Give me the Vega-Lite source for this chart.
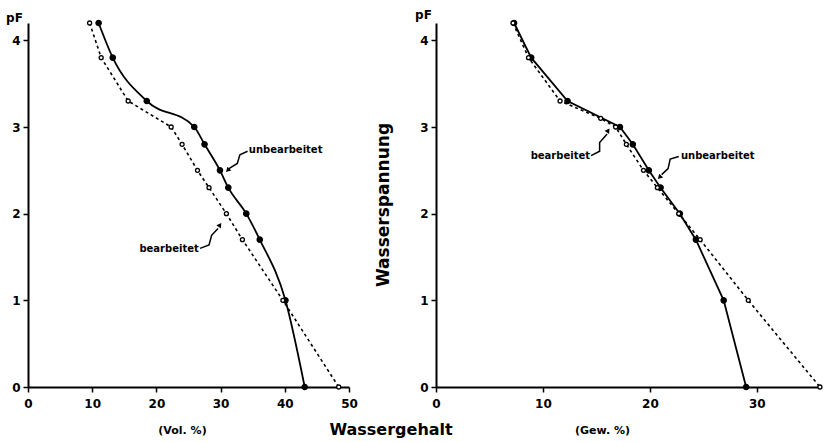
{
  "$schema": "https://vega.github.io/schema/vega-lite/v6.json",
  "background": "white",
  "padding": {"left": 5, "top": 8, "right": 2, "bottom": 0},
  "title": {"text": "Wassergehalt", "orient": "bottom", "anchor": "middle", "font": "DejaVu Sans", "fontSize": 16, "fontWeight": "bold", "color": "black", "offset": -13, "dx": -24},
  "datasets": {
    "curves": [
      {"panel": "vol", "series": "unbearbeitet", "x": 11.0, "pF": 4.2},
      {"panel": "vol", "series": "unbearbeitet", "x": 13.2, "pF": 3.8},
      {"panel": "vol", "series": "unbearbeitet", "x": 18.5, "pF": 3.3},
      {"panel": "vol", "series": "unbearbeitet", "x": 25.9, "pF": 3.0},
      {"panel": "vol", "series": "unbearbeitet", "x": 27.5, "pF": 2.8},
      {"panel": "vol", "series": "unbearbeitet", "x": 29.9, "pF": 2.5},
      {"panel": "vol", "series": "unbearbeitet", "x": 31.2, "pF": 2.3},
      {"panel": "vol", "series": "unbearbeitet", "x": 34.0, "pF": 2.0},
      {"panel": "vol", "series": "unbearbeitet", "x": 36.1, "pF": 1.7},
      {"panel": "vol", "series": "unbearbeitet", "x": 40.1, "pF": 1.0},
      {"panel": "vol", "series": "unbearbeitet", "x": 43.1, "pF": 0.0},
      {"panel": "vol", "series": "bearbeitet", "x": 9.6, "pF": 4.2},
      {"panel": "vol", "series": "bearbeitet", "x": 11.4, "pF": 3.8},
      {"panel": "vol", "series": "bearbeitet", "x": 15.6, "pF": 3.3},
      {"panel": "vol", "series": "bearbeitet", "x": 22.3, "pF": 3.0},
      {"panel": "vol", "series": "bearbeitet", "x": 24.0, "pF": 2.8},
      {"panel": "vol", "series": "bearbeitet", "x": 26.4, "pF": 2.5},
      {"panel": "vol", "series": "bearbeitet", "x": 28.2, "pF": 2.3},
      {"panel": "vol", "series": "bearbeitet", "x": 30.9, "pF": 2.0},
      {"panel": "vol", "series": "bearbeitet", "x": 33.4, "pF": 1.7},
      {"panel": "vol", "series": "bearbeitet", "x": 39.7, "pF": 1.0},
      {"panel": "vol", "series": "bearbeitet", "x": 48.4, "pF": 0.0},
      {"panel": "gew", "series": "unbearbeitet", "x": 7.3, "pF": 4.2},
      {"panel": "gew", "series": "unbearbeitet", "x": 8.9, "pF": 3.8},
      {"panel": "gew", "series": "unbearbeitet", "x": 12.3, "pF": 3.3},
      {"panel": "gew", "series": "unbearbeitet", "x": 17.2, "pF": 3.0},
      {"panel": "gew", "series": "unbearbeitet", "x": 18.4, "pF": 2.8},
      {"panel": "gew", "series": "unbearbeitet", "x": 19.9, "pF": 2.5},
      {"panel": "gew", "series": "unbearbeitet", "x": 21.0, "pF": 2.3},
      {"panel": "gew", "series": "unbearbeitet", "x": 22.8, "pF": 2.0},
      {"panel": "gew", "series": "unbearbeitet", "x": 24.3, "pF": 1.7},
      {"panel": "gew", "series": "unbearbeitet", "x": 26.9, "pF": 1.0},
      {"panel": "gew", "series": "unbearbeitet", "x": 29.0, "pF": 0.0},
      {"panel": "gew", "series": "bearbeitet", "x": 7.2, "pF": 4.2},
      {"panel": "gew", "series": "bearbeitet", "x": 8.65, "pF": 3.8},
      {"panel": "gew", "series": "bearbeitet", "x": 11.6, "pF": 3.3},
      {"panel": "gew", "series": "bearbeitet", "x": 15.4, "pF": 3.1},
      {"panel": "gew", "series": "bearbeitet", "x": 16.8, "pF": 3.0},
      {"panel": "gew", "series": "bearbeitet", "x": 17.8, "pF": 2.8},
      {"panel": "gew", "series": "bearbeitet", "x": 19.4, "pF": 2.5},
      {"panel": "gew", "series": "bearbeitet", "x": 20.7, "pF": 2.3},
      {"panel": "gew", "series": "bearbeitet", "x": 22.7, "pF": 2.0},
      {"panel": "gew", "series": "bearbeitet", "x": 24.7, "pF": 1.7},
      {"panel": "gew", "series": "bearbeitet", "x": 29.2, "pF": 1.0},
      {"panel": "gew", "series": "bearbeitet", "x": 35.9, "pF": 0.0}
    ],
    "labels": [
      {"panel": "vol", "series": "unbearbeitet", "x": 34.4, "pF": 2.73},
      {"panel": "vol", "series": "bearbeitet", "x": 26.6, "pF": 1.59},
      {"panel": "gew", "series": "bearbeitet", "x": 14.4, "pF": 2.66},
      {"panel": "gew", "series": "unbearbeitet", "x": 22.9, "pF": 2.66}
    ],
    "arrows": [
      {"panel": "vol", "series": "unbearbeitet", "step": 1, "x": 34.2, "pF": 2.72},
      {"panel": "vol", "series": "unbearbeitet", "step": 2, "x": 33.0, "pF": 2.68},
      {"panel": "vol", "series": "unbearbeitet", "step": 3, "x": 32.6, "pF": 2.58},
      {"panel": "vol", "series": "unbearbeitet", "step": 4, "x": 31.3, "pF": 2.52},
      {"panel": "vol", "series": "bearbeitet", "step": 1, "x": 26.8, "pF": 1.6},
      {"panel": "vol", "series": "bearbeitet", "step": 2, "x": 28.2, "pF": 1.64},
      {"panel": "vol", "series": "bearbeitet", "step": 3, "x": 28.6, "pF": 1.75},
      {"panel": "vol", "series": "bearbeitet", "step": 4, "x": 29.6, "pF": 1.83},
      {"panel": "gew", "series": "bearbeitet", "step": 1, "x": 14.5, "pF": 2.67},
      {"panel": "gew", "series": "bearbeitet", "step": 2, "x": 15.3, "pF": 2.72},
      {"panel": "gew", "series": "bearbeitet", "step": 3, "x": 15.3, "pF": 2.82},
      {"panel": "gew", "series": "bearbeitet", "step": 4, "x": 16.0, "pF": 2.92},
      {"panel": "gew", "series": "unbearbeitet", "step": 1, "x": 22.7, "pF": 2.66},
      {"panel": "gew", "series": "unbearbeitet", "step": 2, "x": 21.9, "pF": 2.63},
      {"panel": "gew", "series": "unbearbeitet", "step": 3, "x": 21.7, "pF": 2.52},
      {"panel": "gew", "series": "unbearbeitet", "step": 4, "x": 21.1, "pF": 2.45}
    ],
    "heads": [
      {"panel": "vol", "series": "unbearbeitet", "x": 31.1, "pF": 2.5},
      {"panel": "vol", "series": "bearbeitet", "x": 29.9, "pF": 1.87},
      {"panel": "gew", "series": "bearbeitet", "x": 16.1, "pF": 2.96},
      {"panel": "gew", "series": "unbearbeitet", "x": 20.9, "pF": 2.42}
    ]
  },
  "spacing": 16,
  "hconcat": [
    {
      "width": 321,
      "height": 364,
      "encoding": {
        "x": {"field": "x", "type": "quantitative", "scale": {"domain": [0, 50], "nice": false}, "axis": {"values": [0, 10, 20, 30, 40, 50], "title": "(Vol. %)", "titleX": 154}},
        "y": {"field": "pF", "type": "quantitative", "scale": {"domain": [0, 4.2], "nice": false}, "axis": {"values": [0, 1, 2, 3, 4], "title": "pF", "titleAngle": 0, "titleX": -14, "titleY": -6, "titleAlign": "center", "titleBaseline": "middle"}}
      },
      "layer": [
        {"data": {"name": "curves"}, "transform": [{"filter": "datum.panel === 'vol' && datum.series === 'unbearbeitet'"}], "mark": {"type": "line", "color": "black", "strokeWidth": 1.8, "interpolate": "monotone"}, "encoding": {}},
        {"data": {"name": "curves"}, "transform": [{"filter": "datum.panel === 'vol' && datum.series === 'bearbeitet'"}], "mark": {"type": "line", "color": "black", "strokeWidth": 1.6, "strokeDash": [3, 3]}, "encoding": {}},
        {"data": {"name": "curves"}, "transform": [{"filter": "datum.panel === 'vol'"}], "mark": {"type": "point", "shape": "circle", "stroke": "black", "strokeWidth": 1.3, "opacity": 1, "filled": false},
         "encoding": {"fill": {"field": "series", "type": "nominal", "scale": {"domain": ["unbearbeitet", "bearbeitet"], "range": ["black", "white"]}, "legend": null}, "size": {"field": "series", "type": "nominal", "scale": {"domain": ["unbearbeitet", "bearbeitet"], "range": [28, 16]}, "legend": null}}},
        {"data": {"name": "arrows"}, "transform": [{"filter": "datum.panel === 'vol'"}], "mark": {"type": "line", "color": "black", "strokeWidth": 1.5},
         "encoding": {"detail": {"field": "series"}, "order": {"field": "step", "type": "quantitative"}}},
        {"data": {"name": "heads"}, "transform": [{"filter": "datum.panel === 'vol'"}], "mark": {"type": "point", "shape": "triangle-up", "filled": true, "color": "black", "opacity": 1, "size": 30},
         "encoding": {"angle": {"field": "series", "type": "nominal", "scale": {"domain": ["unbearbeitet", "bearbeitet"], "range": [225, 35]}, "legend": null}}},
        {"data": {"name": "labels"}, "transform": [{"filter": "datum.panel === 'vol' && datum.series === 'unbearbeitet'"}], "mark": {"type": "text", "align": "left", "baseline": "middle", "font": "DejaVu Sans", "fontWeight": "bold", "fontSize": 10, "color": "black"},
         "encoding": {"text": {"field": "series"}}},
        {"data": {"name": "labels"}, "transform": [{"filter": "datum.panel === 'vol' && datum.series === 'bearbeitet'"}], "mark": {"type": "text", "align": "right", "baseline": "middle", "font": "DejaVu Sans", "fontWeight": "bold", "fontSize": 10, "color": "black"},
         "encoding": {"text": {"field": "series"}}}
      ]
    },
    {
      "width": 385,
      "height": 364,
      "title": {"text": "Wasserspannung", "orient": "left", "anchor": "middle", "font": "DejaVu Sans", "fontSize": 17, "fontWeight": "bold", "color": "black", "offset": -10, "dy": -32},
      "encoding": {
        "x": {"field": "x", "type": "quantitative", "scale": {"domain": [0, 36], "nice": false}, "axis": {"values": [0, 10, 20, 30], "title": "(Gew. %)", "titleX": 166}},
        "y": {"field": "pF", "type": "quantitative", "scale": {"domain": [0, 4.2], "nice": false}, "axis": {"values": [0, 1, 2, 3, 4], "title": "pF", "titleAngle": 0, "titleX": -13, "titleY": -9, "titleAlign": "center", "titleBaseline": "middle"}}
      },
      "layer": [
        {"data": {"name": "curves"}, "transform": [{"filter": "datum.panel === 'gew' && datum.series === 'unbearbeitet'"}], "mark": {"type": "line", "color": "black", "strokeWidth": 1.8}, "encoding": {}},
        {"data": {"name": "curves"}, "transform": [{"filter": "datum.panel === 'gew' && datum.series === 'bearbeitet'"}], "mark": {"type": "line", "color": "black", "strokeWidth": 1.6, "strokeDash": [3, 3]}, "encoding": {}},
        {"data": {"name": "curves"}, "transform": [{"filter": "datum.panel === 'gew'"}], "mark": {"type": "point", "shape": "circle", "stroke": "black", "strokeWidth": 1.3, "opacity": 1, "filled": false},
         "encoding": {"fill": {"field": "series", "type": "nominal", "scale": {"domain": ["unbearbeitet", "bearbeitet"], "range": ["black", "white"]}, "legend": null}, "size": {"field": "series", "type": "nominal", "scale": {"domain": ["unbearbeitet", "bearbeitet"], "range": [28, 16]}, "legend": null}}},
        {"data": {"name": "arrows"}, "transform": [{"filter": "datum.panel === 'gew'"}], "mark": {"type": "line", "color": "black", "strokeWidth": 1.5},
         "encoding": {"detail": {"field": "series"}, "order": {"field": "step", "type": "quantitative"}}},
        {"data": {"name": "heads"}, "transform": [{"filter": "datum.panel === 'gew'"}], "mark": {"type": "point", "shape": "triangle-up", "filled": true, "color": "black", "opacity": 1, "size": 30},
         "encoding": {"angle": {"field": "series", "type": "nominal", "scale": {"domain": ["unbearbeitet", "bearbeitet"], "range": [225, 35]}, "legend": null}}},
        {"data": {"name": "labels"}, "transform": [{"filter": "datum.panel === 'gew' && datum.series === 'unbearbeitet'"}], "mark": {"type": "text", "align": "left", "baseline": "middle", "font": "DejaVu Sans", "fontWeight": "bold", "fontSize": 10, "color": "black"},
         "encoding": {"text": {"field": "series"}}},
        {"data": {"name": "labels"}, "transform": [{"filter": "datum.panel === 'gew' && datum.series === 'bearbeitet'"}], "mark": {"type": "text", "align": "right", "baseline": "middle", "font": "DejaVu Sans", "fontWeight": "bold", "fontSize": 10, "color": "black"},
         "encoding": {"text": {"field": "series"}}}
      ]
    }
  ],
  "resolve": {"scale": {"x": "independent", "y": "independent", "fill": "shared", "size": "shared", "angle": "shared"}},
  "config": {
    "view": {"stroke": null},
    "axis": {"grid": false, "domainColor": "black", "domainWidth": 2, "tickColor": "black", "tickWidth": 1.5, "tickSize": 5, "labelFont": "DejaVu Sans", "labelFontWeight": "bold", "labelFontSize": 12, "labelColor": "black", "labelPadding": 6, "labelFlush": false, "titleFont": "DejaVu Sans", "titleFontWeight": "bold", "titleFontSize": 11, "titleColor": "black"},
    "axisX": {"titlePadding": 15},
    "axisY": {"titleFontSize": 12, "labelPadding": 3}
  }
}
